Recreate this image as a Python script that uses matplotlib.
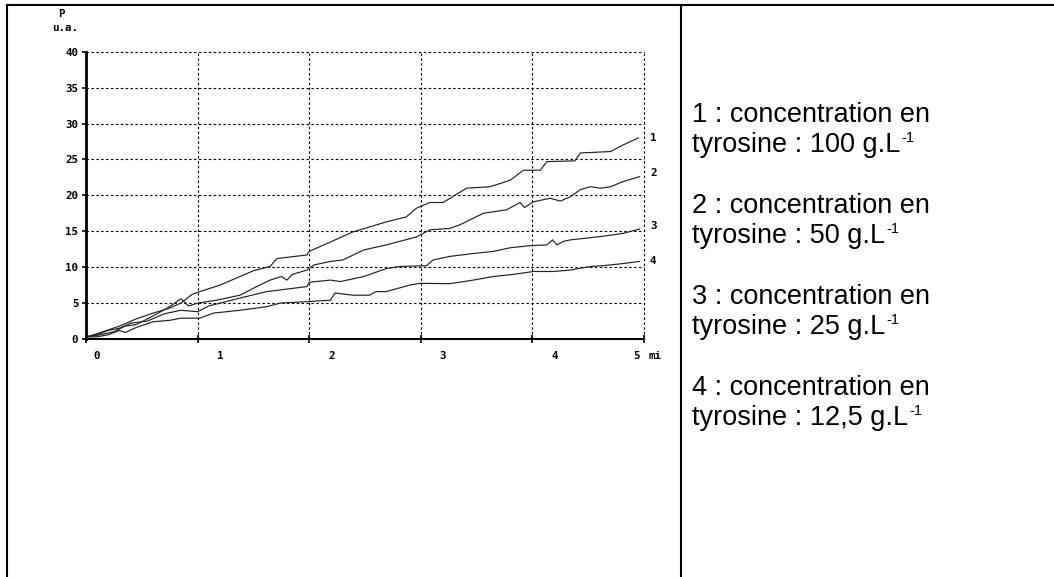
import matplotlib
matplotlib.use("Agg")
import matplotlib.pyplot as plt
from matplotlib.lines import Line2D

W, H = 1054, 577

# curve data: time (min) / P (u.a.)
t1 = [0, 0.05, 0.15, 0.3, 0.45, 0.6, 0.75, 0.85, 0.95, 1.02, 1.2, 1.38, 1.5, 1.65, 1.71, 1.98,
      2.0, 2.19, 2.39, 2.69, 2.87, 2.96, 3.08, 3.2, 3.41, 3.62, 3.8, 3.92, 4.07, 4.13, 4.38,
      4.43, 4.7, 4.81, 4.95]
p1 = [0.3, 0.5, 1.0, 1.8, 2.8, 3.6, 4.3, 5.0, 6.2, 6.6, 7.5, 8.7, 9.5, 10.1, 11.2, 11.7,
      12.2, 13.5, 14.9, 16.3, 17.0, 18.2, 19.0, 19.0, 21.0, 21.2, 22.1, 23.5, 23.5, 24.7, 24.8,
      25.9, 26.1, 27.0, 28.0]

t2 = [0, 0.1, 0.25, 0.35, 0.45, 0.6, 0.75, 0.85, 0.92, 1.0, 1.17, 1.38, 1.53, 1.65, 1.75,
      1.8, 1.85, 1.98, 2.04, 2.19, 2.3, 2.49, 2.69, 2.96, 3.08, 3.26, 3.35, 3.56, 3.77, 3.89,
      3.93, 4.01, 4.16, 4.25, 4.34, 4.43, 4.52, 4.61, 4.7, 4.81, 4.96]
p2 = [0.3, 0.5, 1.0, 1.8, 2.0, 3.2, 4.5, 5.6, 4.6, 5.0, 5.4, 6.1, 7.3, 8.2, 8.7,
      8.2, 9.0, 9.6, 10.3, 10.8, 11.0, 12.4, 13.1, 14.2, 15.2, 15.4, 15.9, 17.5, 18.0, 19.0,
      18.3, 19.1, 19.6, 19.2, 19.8, 20.8, 21.2, 21.0, 21.2, 21.9, 22.6]

t3 = [0, 0.1, 0.2, 0.3, 0.4, 0.55, 0.7, 0.85, 1.0, 1.1, 1.38, 1.62, 1.98, 2.0, 2.19, 2.28,
      2.49, 2.69, 2.81, 3.05, 3.11, 3.26, 3.47, 3.65, 3.8, 3.98, 4.13, 4.18, 4.22, 4.28, 4.34,
      4.46, 4.63, 4.81, 4.96]
p3 = [0.3, 0.6, 1.2, 1.5, 2.2, 2.5, 3.5, 4.0, 3.8, 4.6, 5.7, 6.6, 7.3, 7.9, 8.2, 8.0,
      8.7, 9.8, 10.1, 10.2, 11.0, 11.5, 11.9, 12.2, 12.7, 13.0, 13.1, 13.8, 13.1, 13.6, 13.8,
      14.0, 14.3, 14.7, 15.3]

t4 = [0, 0.1, 0.2, 0.3, 0.35, 0.45, 0.6, 0.75, 0.85, 1.02, 1.14, 1.38, 1.62, 1.74, 1.98,
      2.19, 2.23, 2.39, 2.54, 2.6, 2.69, 2.9, 2.99, 3.26, 3.47, 3.65, 3.83, 4.01, 4.19, 4.34,
      4.52, 4.63, 4.81, 4.96]
p4 = [0.3, 0.3, 0.6, 1.2, 0.9, 1.6, 2.4, 2.6, 2.9, 2.9, 3.6, 4.0, 4.5, 5.0, 5.2,
      5.4, 6.4, 6.1, 6.1, 6.6, 6.6, 7.5, 7.75, 7.7, 8.2, 8.7, 9.0, 9.4, 9.4, 9.6,
      10.1, 10.2, 10.5, 10.8]

curve_names = ["1", "2", "3", "4"]
legend_lines = [
    ("1 : concentration en", "tyrosine : 100 g.L"),
    ("2 : concentration en", "tyrosine : 50 g.L"),
    ("3 : concentration en", "tyrosine : 25 g.L"),
    ("4 : concentration en", "tyrosine : 12,5 g.L"),
]
xlabels = ["0", "1", "2", "3", "4", "5"]
xlabel_pos = [0.096, 1.2, 2.2, 3.2, 4.2, 4.93]


def fx(x):
    return x / W


def fy(y):
    return 1 - y / H


MONO = dict(family="DejaVu Sans Mono", weight="bold", fontsize=7.8, color="black")
SANS = dict(family="Liberation Sans", color="black")

fig = plt.figure(figsize=(W / 100, H / 100), dpi=100)
ax = fig.add_axes([fx(86), fy(339), fx(644) - fx(86), fy(51.7) - fy(339)])
ax.set_xlim(0, 5)
ax.set_ylim(0, 40)

for t, p in [(t1, p1), (t2, p2), (t3, p3), (t4, p4)]:
    ax.plot(t, p, color="#222", lw=0.85, zorder=4)

# dashed grid incl. the top / right frame
for gx in range(1, 6):
    ax.axvline(gx, color="black", lw=0.8, ls=(0, (2.2, 2.2)), zorder=2, clip_on=False)
for gy in range(5, 45, 5):
    ax.axhline(gy, color="black", lw=0.8, ls=(0, (2.2, 2.2)), zorder=2, clip_on=False)

for s in ["top", "right"]:
    ax.spines[s].set_visible(False)
ax.spines["left"].set_linewidth(2)
ax.spines["bottom"].set_linewidth(1.5)
ax.spines["left"].set_zorder(5)
ax.spines["bottom"].set_zorder(5)

ax.set_yticks(range(0, 45, 5))
ax.set_yticklabels([str(v) for v in range(0, 45, 5)], **MONO)
ax.tick_params(axis="y", direction="out", length=3, width=1.2, pad=2.5)
ax.set_xticks(range(0, 6))
ax.set_xticklabels([])
ax.tick_params(axis="x", direction="inout", length=6, width=1.2)

for lab, xp in zip(xlabels, xlabel_pos):
    ax.text(xp, -0.059, lab, transform=ax.get_xaxis_transform(), ha="center", va="center",
            clip_on=False, **MONO)
ax.text(5.04, -0.059, "mi", transform=ax.get_xaxis_transform(), ha="left", va="center",
        clip_on=False, **MONO)

# curve numbers at the right end
for name, y in zip(curve_names, [138, 173, 226, 261]):
    fig.text(fx(650), fy(y), name, ha="left", va="center", **MONO)

fig.text(fx(58), fy(14), "P", ha="left", va="center", **MONO)
fig.text(fx(52), fy(28), "u.a.", ha="left", va="center", **MONO)

# table borders
fig.add_artist(Line2D([fx(7), 1], [fy(5), fy(5)], color="black", lw=1.5))
fig.add_artist(Line2D([fx(7), fx(7)], [fy(5), 0], color="black", lw=1.5))
fig.add_artist(Line2D([fx(681), fx(681)], [fy(5), 0], color="black", lw=1.5))

# legend column, the "-1" exponent is set as its own small text
renderer = fig.canvas.get_renderer()
for i, (l1, l2) in enumerate(legend_lines):
    y0 = 115 + i * 91
    fig.text(fx(692), fy(y0), l1, ha="left", va="center", fontsize=19.5, **SANS)
    t = fig.text(fx(692), fy(y0 + 30), l2, ha="left", va="center", fontsize=19.5, **SANS)
    bb = t.get_window_extent(renderer)
    fig.text(bb.x1 / W + 0.001, fy(y0 + 23), "-1", ha="left", va="center",
             fontsize=10.5, **SANS)

fig.savefig("out.png", dpi=100)
